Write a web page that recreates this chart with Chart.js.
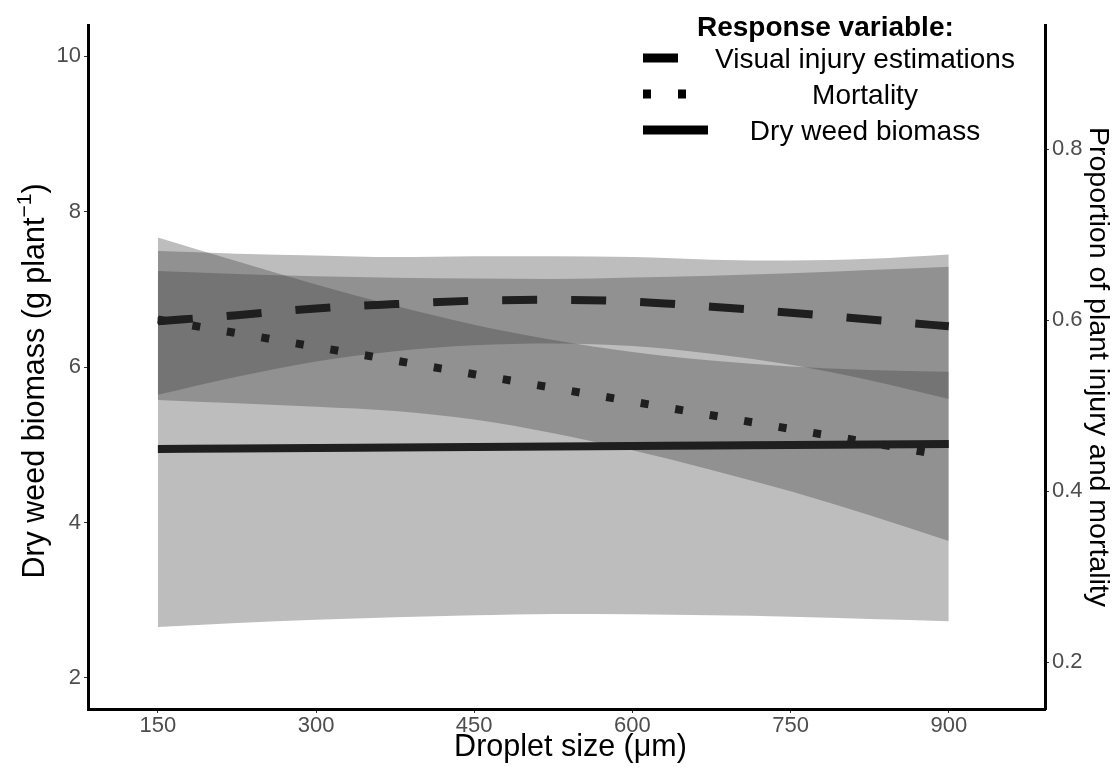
<!DOCTYPE html>
<html>
<head>
<meta charset="utf-8">
<title>Droplet size response</title>
<script src="https://cdn.jsdelivr.net/npm/chart.js@4.4.1/dist/chart.umd.min.js"></script>
<style>
  html, body { margin: 0; padding: 0; background: #ffffff; }
  canvas { display: block; }
</style>
</head>
<body>
<canvas id="chart" width="1114" height="767"></canvas>
<script>
// Droplet size (µm) at which the fitted curves are evaluated
const droplet = [150, 225, 300, 375, 450, 525, 600, 675, 750, 825, 900];

// Dry weed biomass (g plant^-1): fitted line and confidence band
const biomassMean  = [4.945, 4.951, 4.958, 4.964, 4.971, 4.977, 4.984, 4.990, 4.997, 5.003, 5.010];
const biomassUpper = [7.235, 7.196, 7.168, 7.149, 7.137, 7.132, 7.150, 7.175, 7.207, 7.248, 7.290];
const biomassLower = [2.655, 2.706, 2.748, 2.779, 2.805, 2.822, 2.818, 2.805, 2.787, 2.758, 2.730];

// Visual injury estimations (proportion): fitted curve and band
const visualMean  = [0.599, 0.606, 0.614, 0.619, 0.623, 0.624, 0.622, 0.616, 0.609, 0.601, 0.593];
const visualUpper = [0.681, 0.678, 0.676, 0.674, 0.675, 0.675, 0.674, 0.671, 0.670, 0.672, 0.677];
const visualLower = [0.513, 0.534, 0.552, 0.564, 0.571, 0.573, 0.570, 0.561, 0.548, 0.530, 0.508];

// Mortality (proportion): fitted curve and band
const mortMean  = [0.601, 0.585, 0.569, 0.553, 0.537, 0.521, 0.505, 0.489, 0.473, 0.457, 0.441];
const mortUpper = [0.697, 0.669, 0.642, 0.617, 0.595, 0.577, 0.563, 0.553, 0.546, 0.542, 0.540];
const mortLower = [0.507, 0.503, 0.499, 0.494, 0.484, 0.468, 0.448, 0.425, 0.400, 0.372, 0.342];

// Axis ticks
const xTicks = [150, 300, 450, 600, 750, 900];
const leftTicks = [2, 4, 6, 8, 10];
const rightTicks = [0.2, 0.4, 0.6, 0.8];

// Text
const legendTitle = 'Response variable:';
const legendLabels = ['Visual injury estimations', 'Mortality', 'Dry weed biomass'];
const xTitle = 'Droplet size (\u03BCm)';
const rightTitle = 'Proportion of plant injury and mortality';

// Secondary axis is the primary axis divided by 11
const SEC_FACTOR = 11;
const LEFT_MIN = 1.6, LEFT_MAX = 10.4;

const FONT = "'Liberation Sans', Arial, Helvetica, sans-serif";
const BAND = 'rgba(63,63,63,0.34)';
const INK = '#1f1f1f';
const LINE_W = 8;
const DASH = [35, 34];
const DOT = [8, 27];

const pts = arr => droplet.map((x, i) => ({ x: x, y: arr[i] }));

function band(arr, axis, fillNext) {
  return {
    data: pts(arr), yAxisID: axis,
    borderWidth: 0, borderColor: 'rgba(0,0,0,0)',
    backgroundColor: BAND, pointRadius: 0,
    fill: fillNext ? '+1' : false,
    cubicInterpolationMode: 'monotone'
  };
}
function curve(arr, axis, dash) {
  return {
    data: pts(arr), yAxisID: axis,
    borderColor: INK, borderWidth: LINE_W, borderDash: dash,
    borderCapStyle: 'butt', pointRadius: 0, fill: false,
    cubicInterpolationMode: 'monotone'
  };
}

// Axis titles (left one carries a superscript)
const axisTitles = {
  id: 'axisTitles',
  afterDraw(chart) {
    const ctx = chart.ctx;
    const area = chart.chartArea;
    const cy = (area.top + area.bottom) / 2;
    ctx.save();
    ctx.fillStyle = '#000';

    // x title
    ctx.font = `30.5px ${FONT}`;
    ctx.textAlign = 'center';
    ctx.textBaseline = 'middle';
    ctx.fillText(xTitle, (area.left + area.right) / 2 + 4, 748);

    // right title, reading top to bottom
    ctx.font = `28.5px ${FONT}`;
    ctx.save();
    ctx.translate(1098, cy);
    ctx.rotate(Math.PI / 2);
    ctx.fillText(rightTitle, 0, 0);
    ctx.restore();

    // left title with superscript
    const main = 'Dry weed biomass (g plant', sup = '\u22121', tail = ')';
    const big = `30.5px ${FONT}`, small = `21px ${FONT}`;
    ctx.save();
    ctx.translate(33, cy + 14);
    ctx.rotate(-Math.PI / 2);
    ctx.textAlign = 'left';
    ctx.textBaseline = 'alphabetic';
    ctx.font = big;
    const w1 = ctx.measureText(main).width, w3 = ctx.measureText(tail).width;
    ctx.font = small;
    const w2 = ctx.measureText(sup).width;
    let x = -(w1 + w2 + w3) / 2;
    ctx.font = big;
    ctx.fillText(main, x, 11); x += w1;
    ctx.font = small;
    ctx.fillText(sup, x, -2); x += w2;
    ctx.font = big;
    ctx.fillText(tail, x, 11);
    ctx.restore();

    ctx.restore();
  }
};

// Legend with line-type keys
const lineLegend = {
  id: 'lineLegend',
  afterDraw(chart) {
    const ctx = chart.ctx;
    ctx.save();
    ctx.fillStyle = '#000';
    ctx.font = `bold 28px ${FONT}`;
    ctx.textAlign = 'left';
    ctx.textBaseline = 'middle';
    ctx.fillText(legendTitle, 697, 28);

    const rows = [58, 94, 130];
    const dashes = [DASH, DOT, []];
    ctx.font = `28px ${FONT}`;
    ctx.textAlign = 'center';
    legendLabels.forEach((label, i) => {
      ctx.save();
      ctx.strokeStyle = '#000';
      ctx.lineWidth = LINE_W + 1;
      ctx.lineCap = 'butt';
      ctx.setLineDash(dashes[i]);
      ctx.beginPath();
      ctx.moveTo(643, rows[i]);
      ctx.lineTo(708, rows[i]);
      ctx.stroke();
      ctx.restore();
      ctx.fillText(label, 865, rows[i] + 2);
    });
    ctx.restore();
  }
};

const tickFont = { family: FONT, size: 22 };
const gridOpts = { drawOnChartArea: false, drawTicks: true, tickLength: 4, color: '#333333', lineWidth: 1 };
const borderOpts = { display: true, color: '#000000', width: 3 };

new Chart(document.getElementById('chart'), {
  type: 'line',
  data: {
    datasets: [
      band(biomassUpper, 'y', true),
      band(biomassLower, 'y', false),
      band(visualUpper, 'y1', true),
      band(visualLower, 'y1', false),
      band(mortUpper, 'y1', true),
      band(mortLower, 'y1', false),
      curve(visualMean, 'y1', DASH),
      curve(mortMean, 'y1', DOT),
      curve(biomassMean, 'y', [])
    ]
  },
  options: {
    responsive: false,
    animation: false,
    devicePixelRatio: 1,
    layout: { padding: { top: 25, left: 0, right: 0, bottom: 0 } },
    plugins: {
      legend: { display: false },
      tooltip: { enabled: false },
      filler: { drawTime: 'beforeDatasetsDraw' }
    },
    scales: {
      x: {
        type: 'linear', min: 83.75, max: 991.25,
        afterBuildTicks: s => { s.ticks = xTicks.map(v => ({ value: v })); },
        afterFit: s => { s.height = 58; },
        ticks: { font: tickFont, color: '#4d4d4d', padding: 0, maxRotation: 0, autoSkip: false,
                 callback: v => String(v) },
        grid: gridOpts, border: borderOpts
      },
      y: {
        type: 'linear', position: 'left', min: LEFT_MIN, max: LEFT_MAX,
        afterBuildTicks: s => { s.ticks = leftTicks.map(v => ({ value: v })); },
        afterFit: s => { s.width = 88; },
        ticks: { font: tickFont, color: '#4d4d4d', padding: 3, callback: v => String(v) },
        grid: gridOpts, border: borderOpts
      },
      y1: {
        type: 'linear', position: 'right',
        min: LEFT_MIN / SEC_FACTOR, max: LEFT_MAX / SEC_FACTOR,
        afterBuildTicks: s => { s.ticks = rightTicks.map(v => ({ value: v })); },
        afterFit: s => { s.width = 69; },
        ticks: { font: tickFont, color: '#4d4d4d', padding: 3, callback: v => v.toFixed(1) },
        grid: gridOpts, border: borderOpts
      }
    }
  },
  plugins: [axisTitles, lineLegend]
});
</script>
</body>
</html>
